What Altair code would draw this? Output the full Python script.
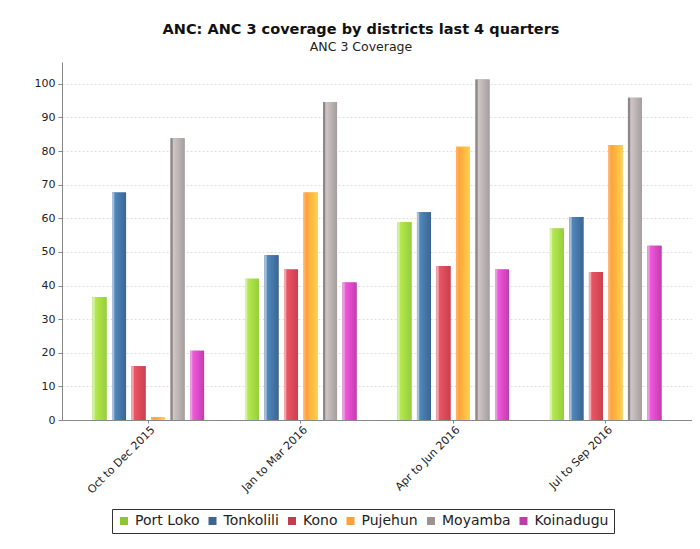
import altair as alt
import pandas as pd

quarters = ["Oct to Dec 2015", "Jan to Mar 2016", "Apr to Jun 2016", "Jul to Sep 2016"]
districts = ["Port Loko", "Tonkolili", "Kono", "Pujehun", "Moyamba", "Koinadugu"]
port_loko = [36.6, 42.0, 58.9, 57.0]
tonkolili = [67.7, 49.0, 61.8, 60.4]
kono = [16.0, 44.8, 45.8, 44.0]
pujehun = [0.9, 67.7, 81.3, 81.8]
moyamba = [83.8, 94.5, 101.3, 95.9]
koinadugu = [20.6, 40.9, 44.8, 51.8]
series = [port_loko, tonkolili, kono, pujehun, moyamba, koinadugu]

legend_colors = ["#8fc33c", "#3e6590", "#bc3f4a", "#ffa13b", "#9a9393", "#b83fa5"]
# (edge, bright, dark) tones for the gradient look of each series
grad_tones = [
    ("#d6f2a6", "#b4e84e", "#96cf3a"),
    ("#a9c0da", "#5088bd", "#3a6592"),
    ("#f0a8b0", "#ec5563", "#c9404f"),
    ("#ffb060", "#ffa33a", "#ffd24a"),
    ("#8e8888", "#cfc6c6", "#a69e9e"),
    ("#e6a0dc", "#f258dc", "#c23cb0"),
]

rows = []
for d, vals in zip(districts, series):
    for q, v in zip(quarters, vals):
        rows.append({"quarter": q, "district": d, "value": v})
df = pd.DataFrame(rows)

x_enc = alt.X("quarter:N", sort=quarters,
              scale=alt.Scale(paddingInner=0.268, paddingOuter=0.2),
              axis=alt.Axis(title=None, labelAngle=-45, labelAlign="right", labelBaseline="middle",
                            labelFontSize=11, labelColor="#222", labelPadding=5, labelOffset=5,
                            tickSize=3, tickColor="#888", domainColor="#888", grid=False,
                            labelFont="DejaVu Sans"))
xo_enc = alt.XOffset("district:N", sort=districts,
                     scale=alt.Scale(domain=districts, paddingInner=0.28, paddingOuter=0))
y_enc = alt.Y("value:Q",
              scale=alt.Scale(domain=[0, 106.5], nice=False),
              axis=alt.Axis(title=None, values=list(range(0, 101, 10)), labelFontSize=11,
                            labelColor="#222", labelPadding=3, tickSize=4, tickColor="#888",
                            domainColor="#888", gridColor="#dddddd", gridDash=[2, 2],
                            labelFont="DejaVu Sans"))

base = alt.Chart(df).mark_bar().encode(
    x=x_enc, xOffset=xo_enc, y=y_enc,
    color=alt.Color("district:N", sort=districts,
                    scale=alt.Scale(domain=districts, range=legend_colors),
                    legend=alt.Legend(title=None, orient="none", legendX=50, legendY=447,
                                      direction="horizontal", columns=6, symbolType="square",
                                      symbolSize=64, symbolStrokeWidth=0, labelFontSize=14,
                                      labelFont="DejaVu Sans", labelColor="#222",
                                      columnPadding=5.5, labelOffset=4, padding=5,
                                      strokeColor="#333", fillColor="white")),
)

layers = [base]
for d, (edge, bright, dark) in zip(districts, grad_tones):
    grad = alt.LinearGradient(gradient="linear", x1=0, x2=1, y1=0, y2=0, stops=[
        alt.GradientStop(color=edge, offset=0),
        alt.GradientStop(color=edge, offset=0.12),
        alt.GradientStop(color=bright, offset=0.2),
        alt.GradientStop(color=dark, offset=1),
    ])
    layer = alt.Chart(df).transform_filter(alt.datum.district == d).mark_bar(color=grad).encode(
        x=x_enc, xOffset=xo_enc, y=y_enc)
    layers.append(layer)

chart = alt.layer(*layers).properties(
    width=630, height=358,
    title=alt.TitleParams(text="ANC: ANC 3 coverage by districts last 4 quarters",
                          subtitle="ANC 3 Coverage", font="DejaVu Sans", fontSize=14.5,
                          fontWeight="bold", color="#111", subtitleFont="DejaVu Sans",
                          subtitleFontSize=12.5, subtitleColor="#222", subtitlePadding=3,
                          anchor="middle", dx=-16, offset=8),
    autosize=alt.AutoSizeParams(type="none"),
    padding={"left": 54, "top": 54, "right": 0, "bottom": 121},
    background="white",
).configure_view(stroke="transparent")

chart.save("out.html", embed_options={"renderer": "svg", "actions": False})
